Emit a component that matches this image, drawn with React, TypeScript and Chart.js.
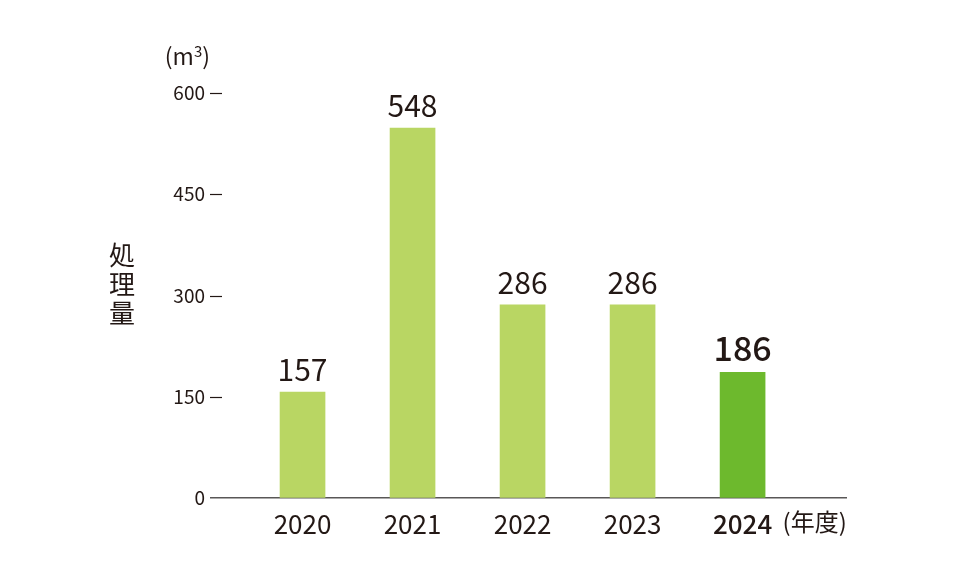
import React, { useEffect, useRef } from "react";
import { Chart, registerables } from "chart.js";

Chart.register(...registerables);

const years = ["2020", "2021", "2022", "2023", "2024"];
const values = [157, 548, 286, 286, 186];
const barColors = ["#b9d663", "#b9d663", "#b9d663", "#b9d663", "#6db92d"];
const yTicks = [0, 150, 300, 450, 600];
const unitBase = "(m";
const unitSup = "3";
const unitClose = ")";
const yTitle = ["処", "理", "量"];
const xUnit = "(年度)";

const FONT = '"Noto Sans CJK JP", "Noto Sans", sans-serif';
const INK = "#231815";

const decor = {
  id: "decor",
  afterDraw(chart: any) {
    const { ctx, chartArea, scales } = chart;
    const xs = scales.x;
    const ys = scales.y;
    ctx.save();
    // y tick dashes
    ctx.strokeStyle = INK;
    ctx.lineWidth = 1.2;
    yTicks.slice(1).forEach((v) => {
      const py = Math.round(ys.getPixelForValue(v)) + 0.5;
      ctx.beginPath();
      ctx.moveTo(chartArea.left - 1, py);
      ctx.lineTo(chartArea.left + 11, py);
      ctx.stroke();
    });
    // value labels
    const meta = chart.getDatasetMeta(0);
    ctx.fillStyle = INK;
    ctx.textAlign = "center";
    ctx.textBaseline = "alphabetic";
    meta.data.forEach((bar: any, i: number) => {
      const last = i === values.length - 1;
      ctx.font = `${last ? 500 : 400} ${last ? 34 : 30}px ${FONT}`;
      ctx.fillText(String(values[i]), bar.x, bar.y - 11);
    });
    // unit label (m3) with superscript
    ctx.textAlign = "left";
    const baseY = chartArea.top - 28;
    ctx.font = `400 23px ${FONT}`;
    const wBase = ctx.measureText(unitBase).width;
    const wClose = ctx.measureText(unitClose).width;
    ctx.font = `400 15px ${FONT}`;
    const wSup = ctx.measureText(unitSup).width;
    let ux = chartArea.left - 1 - (wBase + wSup + wClose);
    ctx.font = `400 23px ${FONT}`;
    ctx.fillText(unitBase, ux, baseY);
    ux += wBase;
    ctx.font = `400 15px ${FONT}`;
    ctx.fillText(unitSup, ux, baseY - 8);
    ux += wSup;
    ctx.font = `400 23px ${FONT}`;
    ctx.fillText(unitClose, ux, baseY);
    // vertical title
    ctx.font = `400 26px ${FONT}`;
    ctx.textAlign = "center";
    ctx.textBaseline = "middle";
    const cy = (chartArea.top + chartArea.bottom) / 2 - 11;
    yTitle.forEach((ch, i) => {
      ctx.fillText(ch, 122, cy + (i - 1) * 29);
    });
    // x unit
    ctx.font = `400 24px ${FONT}`;
    ctx.textAlign = "left";
    ctx.textBaseline = "alphabetic";
    ctx.fillText(xUnit, xs.getPixelForValue(years.length - 1) + 40, chartArea.bottom + 33);
    ctx.restore();
  },
};

export default function App() {
  const ref = useRef<HTMLCanvasElement>(null);
  useEffect(() => {
    document.body.style.margin = "0";
    const chart = new Chart(ref.current as HTMLCanvasElement, {
      type: "bar",
      data: {
        datasets: [
          {
            data: years.map((_, i) => ({ x: i, y: values[i] })) as any,
            backgroundColor: barColors,
            barThickness: 45,
            borderWidth: 0,
          },
        ],
      },
      options: {
        responsive: false,
        animation: false,
        layout: { padding: { top: 93, right: 110, left: 0, bottom: 0 } },
        plugins: { legend: { display: false }, tooltip: { enabled: false } },
        scales: {
          x: {
            type: "linear",
            min: -0.832,
            max: 4.94,
            offset: false,
            afterBuildTicks: (s: any) => {
              s.ticks = years.map((_, i) => ({ value: i }));
            },
            afterFit: (s: any) => {
              s.height = 86;
            },
            grid: { display: false },
            border: { display: true, color: "#595757", width: 1.5 },
            ticks: {
              padding: 3,
              color: INK,
              autoSkip: false,
              maxRotation: 0,
              font: (ctx: any) => ({
                family: FONT,
                size: 26,
                weight: ctx.index === years.length - 1 ? "500" : "normal",
              }),
              callback: (v: any) => years[v] ?? "",
            },
          },
          y: {
            min: 0,
            max: 600,
            afterBuildTicks: (s: any) => {
              s.ticks = yTicks.map((v) => ({ value: v }));
            },
            afterFit: (s: any) => {
              s.width = 211;
            },
            grid: { display: true, drawOnChartArea: false, drawTicks: false },
            border: { display: false },
            ticks: { padding: 6, color: INK, font: { family: FONT, size: 19 } },
          },
        },
      } as any,
      plugins: [decor],
    });
    return () => chart.destroy();
  }, []);
  return <canvas ref={ref} width={956} height={584} style={{ display: "block", width: 956, height: 584 }} />;
}
